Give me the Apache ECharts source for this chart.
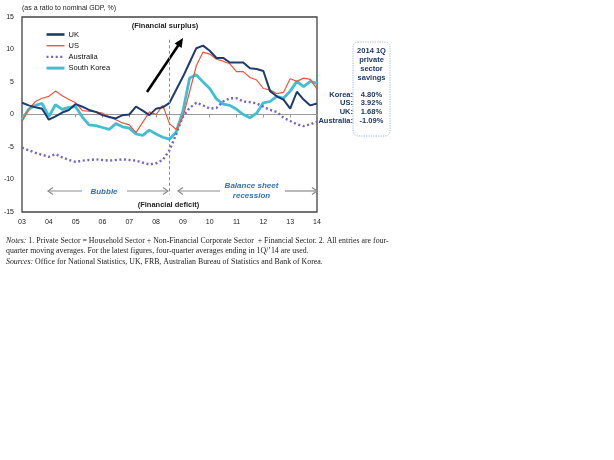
<!DOCTYPE html>
<html>
<head>
<meta charset="utf-8">
<script src="https://cdn.jsdelivr.net/npm/echarts@6/dist/echarts.min.js"></script>
<style>
html,body{margin:0;padding:0;background:#fff;}
#c{width:614px;height:460px;}
</style>
</head>
<body>
<div id="c"></div>
<script>
var years = ['03','04','05','06','07','08','09','10','11','12','13','14'];
var quarters = [];
years.forEach(function (y, i) {
  var n = (i === years.length - 1) ? 1 : 4;
  for (var q = 1; q <= n; q++) quarters.push(y + 'Q' + q);
});
var yTicks = [-15, -10, -5, 0, 5, 10, 15];

var uk    = [1.8,1.4,1.1,0.9, -0.8,-0.3,0.3,0.7, 1.6,1.2,0.7,0.4, -0.1,-0.4,-0.6,-0.1, 0.0,1.2,0.6,-0.1, 0.9,1.1,1.8,3.8, 5.8,8.0,10.2,10.6, 9.8,8.7,8.7,8.0, 8.0,8.0,7.1,7.0, 6.7,3.6,2.8,2.3, 0.9,3.5,2.3,1.4, 1.7];
var us    = [-1.0,0.8,2.0,2.5, 2.8,3.6,2.9,2.3, 1.8,0.6,0.5,0.4, 0.2,-0.3,-0.8,-1.3, -1.6,-2.8,-1.2,0.4, 0.0,1.4,-1.4,-2.3, -0.4,3.5,7.5,9.6, 9.3,8.5,8.2,7.8, 6.6,6.6,5.7,5.3, 4.0,3.8,3.2,3.4, 5.5,5.1,5.6,5.4, 3.9];
var aus   = [-5.1,-5.5,-5.9,-6.2, -6.5,-6.1,-6.6,-7.0, -7.3,-7.1,-7.0,-6.9, -7.0,-7.1,-7.0,-6.9, -7.0,-7.1,-7.4,-7.7, -7.5,-7.0,-5.5,-3.0, -0.3,1.0,1.8,1.4, 0.9,1.0,2.0,2.5, 2.5,2.0,1.9,1.7, 1.2,0.7,0.4,-0.5, -1.0,-1.5,-1.8,-1.5, -1.1];
var korea = [-0.8,0.8,1.4,1.7, -0.3,1.5,0.8,1.1, 1.2,-0.4,-1.6,-1.7, -2.0,-2.3,-1.4,-1.9, -2.1,-3.0,-3.2,-2.4, -3.0,-3.5,-3.8,-2.7, 0.5,5.6,6.1,5.0, 4.0,2.4,1.6,1.4, 0.8,0.0,-0.5,0.2, 1.8,2.0,2.8,2.5, 3.6,5.1,4.3,5.1, 4.8];

var boxLabels = ['Korea:', 'US:', 'UK:', 'Australia:'];
var boxValues = ['4.80%', '3.92%', '1.68%', '-1.09%'];

var SANS = 'Liberation Sans, Arial, sans-serif';
var SERIF = 'Liberation Serif, Times New Roman, serif';
var NAVY = '#1f3864';
var BLUE = '#2e75b6';
var GREY = '#8c8c8c';
var NOTE_FS = 7.85;

function grayArrow(x1, x2, y, headAt) {
  var hx = headAt === 'left' ? x1 : x2;
  var d = headAt === 'left' ? 5 : -5;
  return [
    { type: 'line', shape: { x1: x1, y1: y, x2: x2, y2: y }, style: { stroke: GREY, lineWidth: 1.2 } },
    { type: 'polyline', shape: { points: [[hx + d, y - 3.5], [hx, y], [hx + d, y + 3.5]] }, style: { stroke: GREY, lineWidth: 1.2, fill: null } }
  ];
}

var graphics = [
  { type: 'text', x: 22, y: 8, style: { text: '(as a ratio to nominal GDP, %)', font: '7px ' + SANS, fill: '#222', textVerticalAlign: 'middle' } },
  { type: 'text', x: 165, y: 26, style: { text: '(Financial surplus)', font: 'bold 7.5px ' + SANS, fill: '#222', textAlign: 'center', textVerticalAlign: 'middle' } },
  { type: 'text', x: 168.5, y: 205, style: { text: '(Financial deficit)', font: 'bold 7.5px ' + SANS, fill: '#222', textAlign: 'center', textVerticalAlign: 'middle' } },
  { type: 'text', x: 104, y: 191.5, style: { text: 'Bubble', font: 'italic bold 8px ' + SANS, fill: BLUE, textAlign: 'center', textVerticalAlign: 'middle' } },
  { type: 'text', x: 251.5, y: 186, style: { text: 'Balance sheet', font: 'italic bold 8px ' + SANS, fill: BLUE, textAlign: 'center', textVerticalAlign: 'middle' } },
  { type: 'text', x: 251.5, y: 196, style: { text: 'recession', font: 'italic bold 8px ' + SANS, fill: BLUE, textAlign: 'center', textVerticalAlign: 'middle' } },
  // black arrow
  { type: 'line', shape: { x1: 147, y1: 92, x2: 178.5, y2: 45 }, style: { stroke: '#000', lineWidth: 2.6 } },
  { type: 'polygon', shape: { points: [[183, 38], [181.6, 48], [174.6, 43.4]] }, style: { fill: '#000' } },
  // right box
  { type: 'rect', shape: { x: 353, y: 42, width: 37, height: 94, r: 5 }, style: { fill: null, stroke: '#9db4dc', lineWidth: 1, lineDash: [1.2, 1.2] } },
  { type: 'text', x: 371.5, y: 51, style: { text: '2014 1Q', font: 'bold 7.5px ' + SANS, fill: NAVY, textAlign: 'center', textVerticalAlign: 'middle' } },
  { type: 'text', x: 371.5, y: 60, style: { text: 'private', font: 'bold 7.5px ' + SANS, fill: NAVY, textAlign: 'center', textVerticalAlign: 'middle' } },
  { type: 'text', x: 371.5, y: 68.5, style: { text: 'sector', font: 'bold 7.5px ' + SANS, fill: NAVY, textAlign: 'center', textVerticalAlign: 'middle' } },
  { type: 'text', x: 371.5, y: 77.5, style: { text: 'savings', font: 'bold 7.5px ' + SANS, fill: NAVY, textAlign: 'center', textVerticalAlign: 'middle' } },
  // notes
  { type: 'text', x: 6, y: 240.5, style: { text: '{i|Notes:} 1. Private Sector = Household Sector + Non-Financial Corporate Sector  + Financial Sector. 2. All entries are four-', font: NOTE_FS + 'px ' + SERIF, fill: '#222', textVerticalAlign: 'middle', rich: { i: { fontStyle: 'italic', fontFamily: SERIF, fontSize: NOTE_FS } } } },
  { type: 'text', x: 6, y: 250.5, style: { text: 'quarter moving averages. For the latest figures, four-quarter averages ending in 1Q/\u201914 are used.', font: NOTE_FS + 'px ' + SERIF, fill: '#222', textVerticalAlign: 'middle' } },
  { type: 'text', x: 6, y: 262, style: { text: '{i|Sources:} Office for National Statistics, UK, FRB, Australian Bureau of Statistics and Bank of Korea.', font: NOTE_FS + 'px ' + SERIF, fill: '#222', textVerticalAlign: 'middle', rich: { i: { fontStyle: 'italic', fontFamily: SERIF, fontSize: NOTE_FS } } } }
];
graphics = graphics.concat(grayArrow(48, 82, 191, 'left'), grayArrow(127, 168, 191, 'right'),
  grayArrow(178, 220, 191, 'left'), grayArrow(285, 317, 191, 'right'));
boxLabels.forEach(function (l, i) {
  var y = 94.5 + i * 8.7;
  graphics.push({ type: 'text', x: 353, y: y, style: { text: l, font: 'bold 7.5px ' + SANS, fill: NAVY, textAlign: 'right', textVerticalAlign: 'middle' } });
  graphics.push({ type: 'text', x: 371.5, y: y, style: { text: boxValues[i], font: 'bold 7.5px ' + SANS, fill: NAVY, textAlign: 'center', textVerticalAlign: 'middle' } });
});

var chart = echarts.init(document.getElementById('c'), null, { renderer: 'canvas' });
chart.setOption({
  backgroundColor: '#fff',
  animation: false,
  textStyle: { fontFamily: SANS },
  grid: { left: 22, top: 17, width: 295, height: 195, show: true, borderColor: '#444', borderWidth: 1.3, backgroundColor: 'transparent' },
  legend: {
    orient: 'vertical', left: 45, top: 30.5, padding: 0, itemWidth: 18, itemHeight: 7, itemGap: 3.2,
    itemStyle: { opacity: 0 },
    textStyle: { fontSize: 7.5, color: '#111', fontFamily: SANS, padding: [0, 0, 0, -1] },
    data: [
      { name: 'UK', lineStyle: { width: 2.6 } },
      { name: 'US', lineStyle: { width: 1.4 } },
      { name: 'Australia', lineStyle: { width: 2.4 } },
      { name: 'South Korea', lineStyle: { width: 3 } }
    ]
  },
  xAxis: [
    {
      type: 'category', data: quarters, boundaryGap: false,
      axisLine: { show: false, onZero: false },
      axisTick: { show: false },
      axisLabel: { interval: 3, margin: 7, fontSize: 7, color: '#222', formatter: function (v) { return v.slice(0, 2); } },
      splitLine: { show: false }
    },
    {
      type: 'category', data: quarters, boundaryGap: false, position: 'bottom',
      axisLine: { show: true, onZero: true, lineStyle: { color: '#9a9a9a', width: 1 } },
      axisTick: { show: true, interval: 3, length: 3, lineStyle: { color: '#9a9a9a' } },
      axisLabel: { show: false },
      splitLine: { show: false }
    }
  ],
  yAxis: {
    type: 'value', min: yTicks[0], max: yTicks[yTicks.length - 1], interval: 5,
    axisLine: { show: false }, axisTick: { show: false }, splitLine: { show: false },
    axisLabel: { margin: 8, fontSize: 7, color: '#222' }
  },
  series: [
    { name: 'UK', type: 'line', data: uk, symbol: 'none', lineStyle: { color: '#1f3a6e', width: 2 }, itemStyle: { color: '#1f3a6e' }, z: 4,
      markLine: { silent: true, symbol: 'none', label: { show: false },
        lineStyle: { color: '#888', type: [3, 2.5], width: 1 },
        data: [[{ coord: [quarters[22], 11.5] }, { coord: [quarters[22], -12.3] }]] } },
    { name: 'US', type: 'line', data: us, symbol: 'none', lineStyle: { color: '#f2543b', width: 1.2 }, itemStyle: { color: '#f2543b' }, z: 3 },
    { name: 'Australia', type: 'line', data: aus, symbol: 'none', lineStyle: { color: '#7561c9', width: 2.4, type: [2, 2.6] }, itemStyle: { color: '#7561c9' }, z: 2 },
    { name: 'South Korea', type: 'line', data: korea, symbol: 'none', lineStyle: { color: '#3fbfd1', width: 2.8 }, itemStyle: { color: '#3fbfd1' }, z: 1 }
  ],
  graphic: graphics
});
</script>
</body>
</html>
